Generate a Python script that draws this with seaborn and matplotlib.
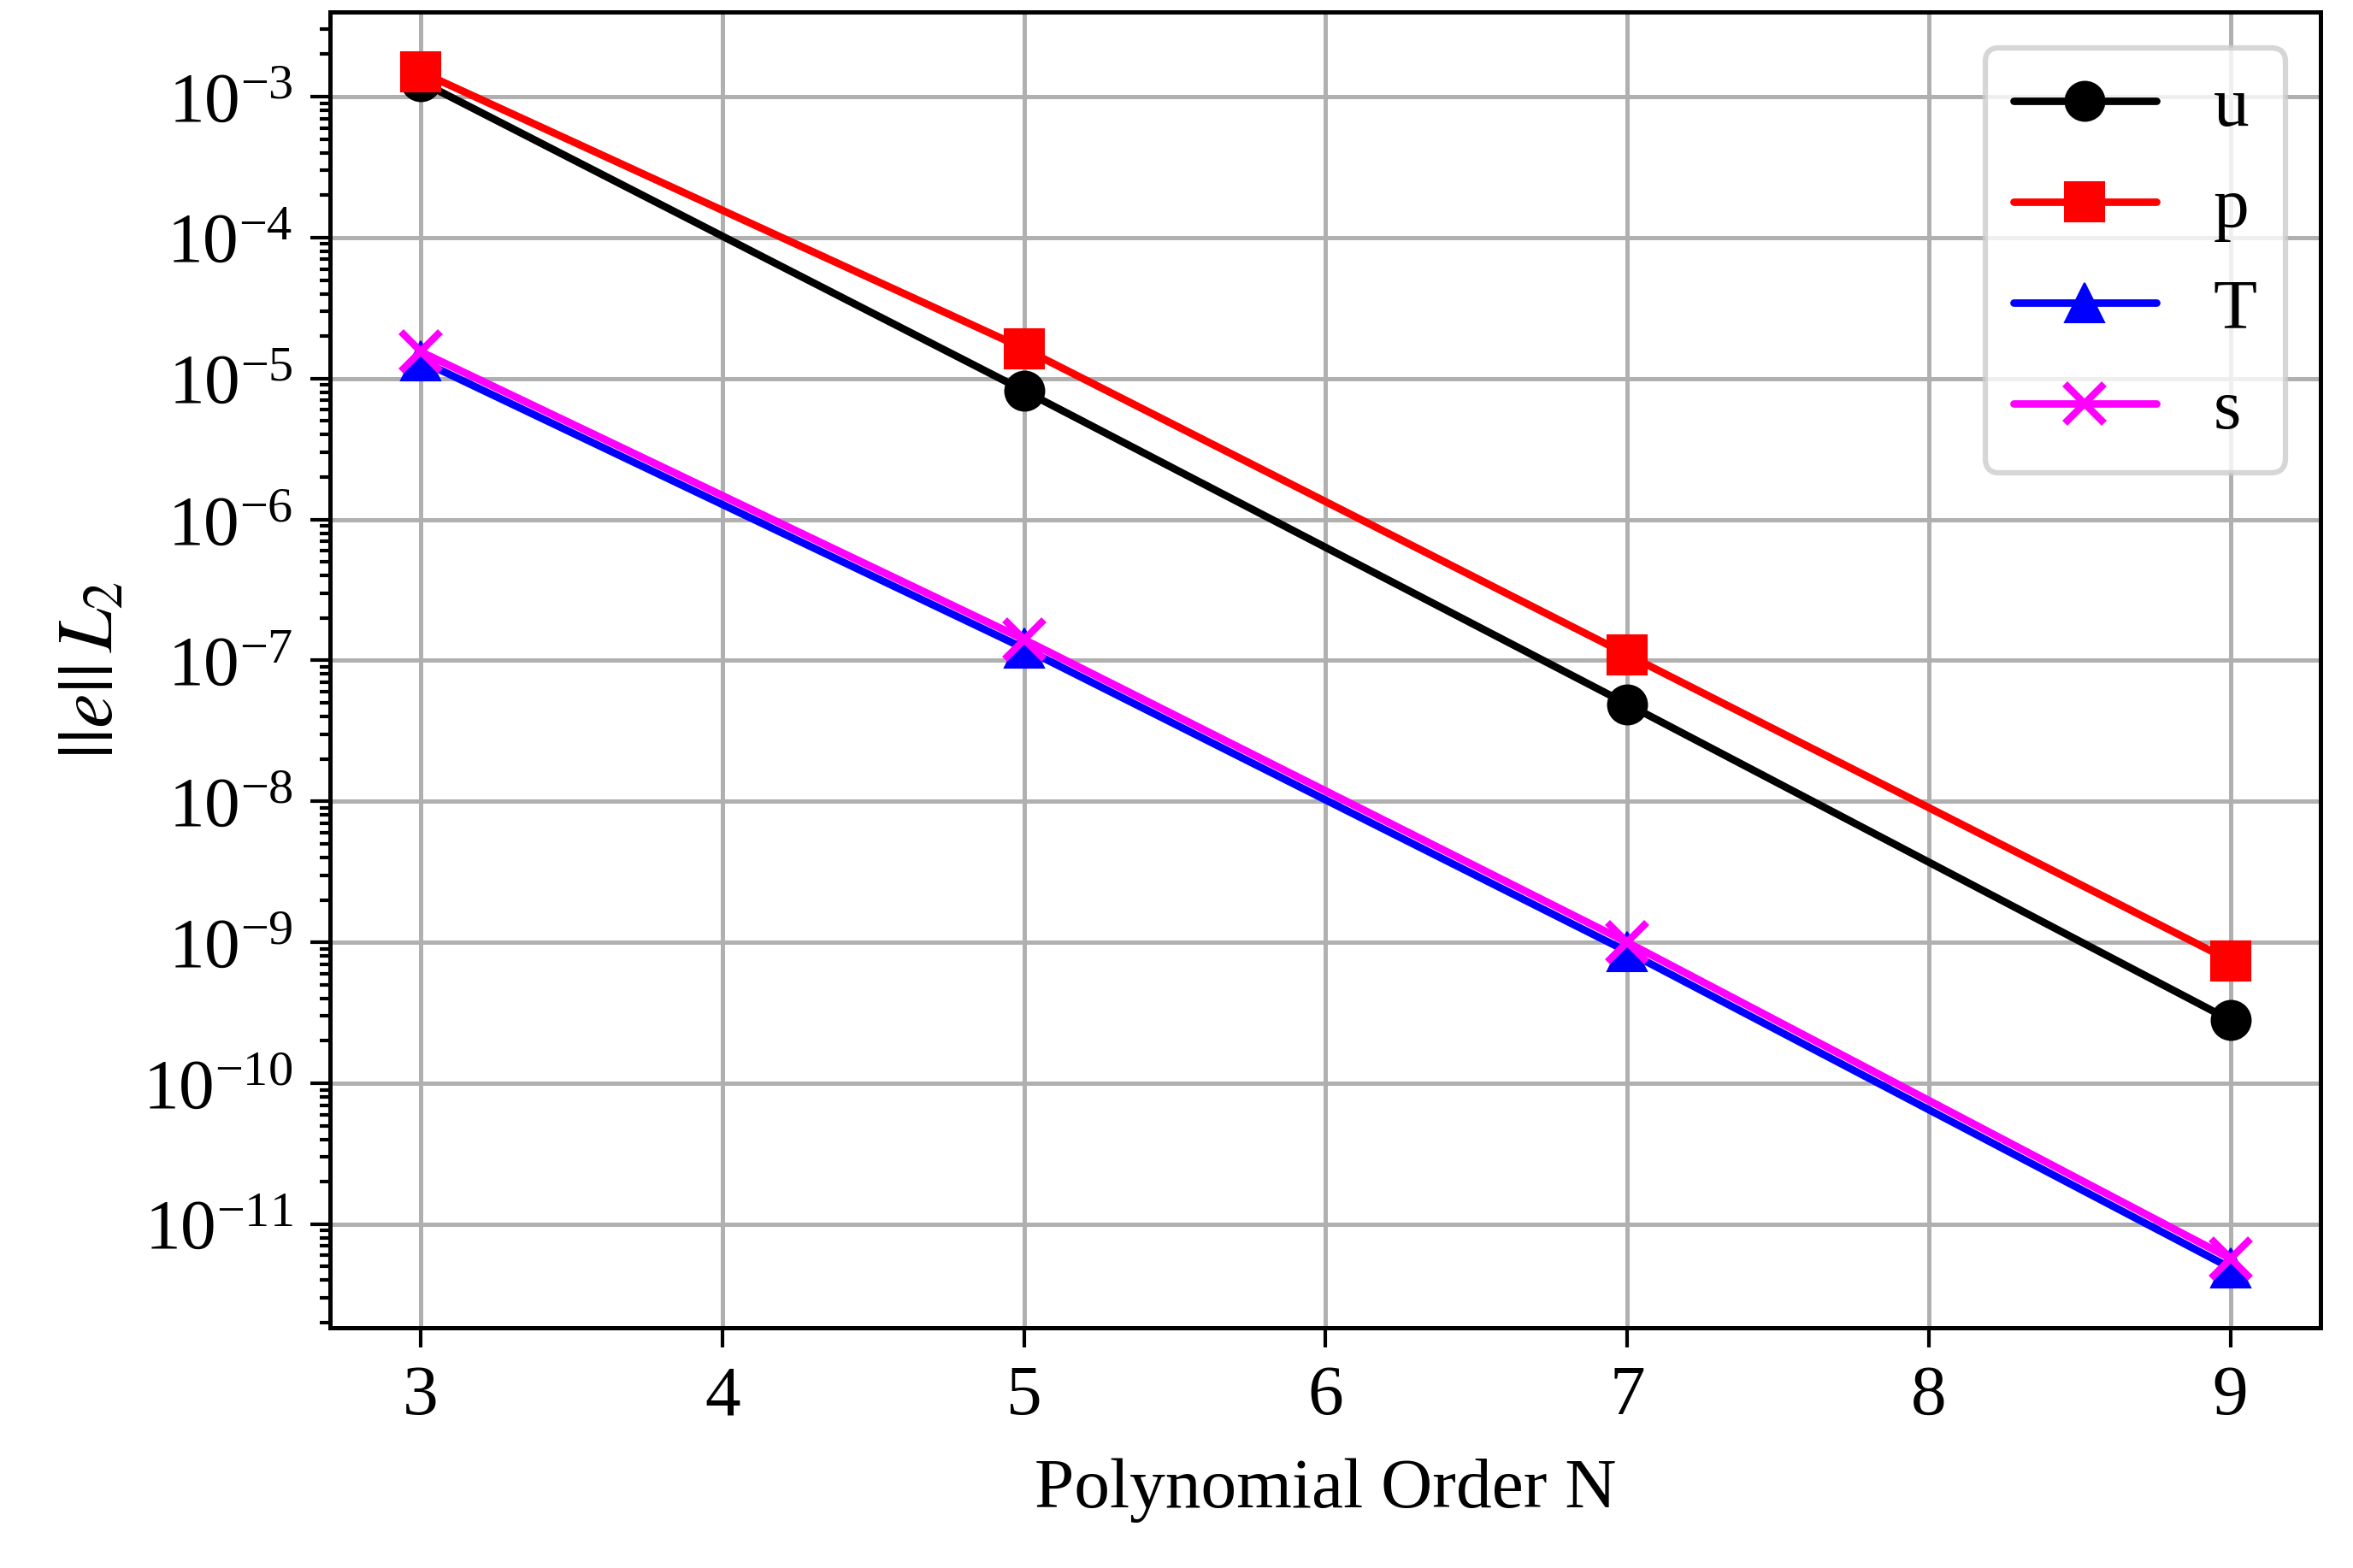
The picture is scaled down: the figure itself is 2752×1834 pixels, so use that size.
import matplotlib
matplotlib.use("Agg")
import matplotlib.pyplot as plt
import seaborn as sns
import pandas as pd
import numpy as np

orders = [3, 5, 7, 9]
err_u = [1.28e-3, 8.2e-6, 4.9e-8, 2.8e-10]
err_p = [1.5e-3, 1.63e-5, 1.1e-7, 7.4e-10]
err_T = [1.34e-5, 1.22e-7, 8.6e-10, 4.9e-12]
err_s = [1.55e-5, 1.41e-7, 1.0e-9, 5.7e-12]
series_names = ["u", "p", "T", "s"]
colors = ["black", "red", "blue", "magenta"]
markers = ["o", "s", "^", "x"]

sns.set_style("ticks")
plt.rcParams["font.family"] = ["Liberation Serif", "DejaVu Serif"]
plt.rcParams["mathtext.fontset"] = "stix"
plt.rcParams["font.size"] = 20
for key in ["text.color", "axes.labelcolor", "xtick.color", "ytick.color",
            "xtick.labelcolor", "ytick.labelcolor"]:
    plt.rcParams[key] = "black"

df = pd.DataFrame({
    "N": orders * 4,
    "err": err_u + err_p + err_T + err_s,
    "var": sum([[n] * len(orders) for n in series_names], []),
})

fig = plt.figure(figsize=(2753 / 300, 1834 / 300), dpi=300)
ax = fig.add_axes([0.1403, 0.1533, 0.8457, 0.839])

for name, c, m in zip(series_names, colors, markers):
    sub = df[df["var"] == name]
    sns.lineplot(data=sub, x="N", y="err", ax=ax, color=c, marker=m,
                 markersize=11, linewidth=2.1, label=name,
                 markeredgecolor=c, markeredgewidth=2 if m == "x" else 0.5,
                 estimator=None, sort=False)

ax.set_yscale("log")
ax.set_xlabel("Polynomial Order N", fontsize=20, color="black", labelpad=8)
ax.set_ylabel(r"$||e||\,L_2$", fontsize=22, color="black")
ax.grid(True, which="major", color="#b0b0b0", linewidth=1.2)
ax.tick_params(which="major", length=5.5, width=1, labelsize=20, direction="out",
               colors="black", pad=5)
ax.tick_params(which="minor", length=3, width=1, direction="out", colors="black")
for sp in ax.spines.values():
    sp.set_linewidth(1.2)
    sp.set_color("black")
ax.set_xticks([3, 4, 5, 6, 7, 8, 9])
ax.yaxis.set_major_locator(matplotlib.ticker.LogLocator(base=10, numticks=20))
ax.yaxis.set_minor_locator(matplotlib.ticker.LogLocator(base=10, subs=np.arange(2, 10), numticks=100))

leg = ax.legend(loc="upper right", fontsize=20, fancybox=True, framealpha=0.8,
                edgecolor="0.8")
leg.get_frame().set_linewidth(1.5)
for t in leg.get_texts():
    t.set_color("black")

fig.savefig("out.png", dpi=300)
